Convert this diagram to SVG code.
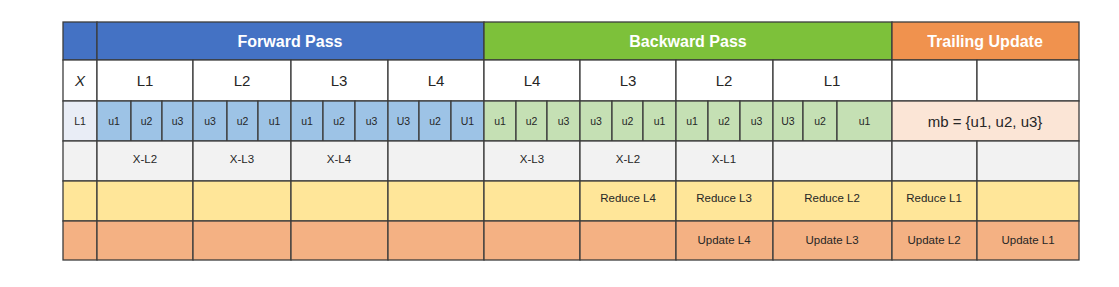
<svg xmlns="http://www.w3.org/2000/svg" width="1119" height="287" viewBox="0 0 1119 287">
<style>
rect{stroke:#3c3c3c;stroke-width:1.3}
rect.bg{stroke:none;fill:#ffffff}
.hb{fill:#4472C4}.hg{fill:#7DC13A}.ho{fill:#F0924E}
.w{fill:#ffffff}.ub{fill:#9DC3E6}.ug{fill:#C5E0B4}.mb{fill:#FBE5D6}.lv{fill:#E9EDF6}
.gr{fill:#F2F2F2}.ye{fill:#FFE699}.or{fill:#F4B183}
text{font-family:"Liberation Sans",Arial,sans-serif;fill:#262626;text-anchor:middle}
.h{font-size:16px;font-weight:bold;fill:#ffffff}
.l{font-size:15px}
.u{font-size:10.5px}
.s{font-size:11.5px}
</style>
<rect class="bg" x="0" y="0" width="1119" height="287"/>
<g id="row-header">
<rect class="hb" x="63" y="22" width="34" height="38"/>
<rect class="hb" x="97" y="22" width="387" height="38"/>
<rect class="hg" x="484" y="22" width="408" height="38"/>
<rect class="ho" x="892" y="22" width="187" height="38"/>
<text class="h" x="290" y="47">Forward Pass</text>
<text class="h" x="688" y="47">Backward Pass</text>
<text class="h" x="985" y="47">Trailing Update</text>
</g>
<g id="row-layers">
<rect class="w" x="63" y="60" width="34" height="41"/>
<rect class="w" x="97" y="60" width="96" height="41"/>
<rect class="w" x="193" y="60" width="98" height="41"/>
<rect class="w" x="291" y="60" width="97" height="41"/>
<rect class="w" x="388" y="60" width="96" height="41"/>
<rect class="w" x="484" y="60" width="96" height="41"/>
<rect class="w" x="580" y="60" width="96" height="41"/>
<rect class="w" x="676" y="60" width="97" height="41"/>
<rect class="w" x="773" y="60" width="119" height="41"/>
<rect class="w" x="892" y="60" width="85" height="41"/>
<rect class="w" x="977" y="60" width="102" height="41"/>
<text class="l" x="80" y="86" font-style="italic">X</text>
<text class="l" x="145" y="86">L1</text>
<text class="l" x="242" y="86">L2</text>
<text class="l" x="339" y="86">L3</text>
<text class="l" x="436" y="86">L4</text>
<text class="l" x="532" y="86">L4</text>
<text class="l" x="628" y="86">L3</text>
<text class="l" x="724" y="86">L2</text>
<text class="l" x="832" y="86">L1</text>
</g>
<g id="row-microbatches">
<rect class="lv" x="63" y="101" width="34" height="40"/>
<rect class="ub" x="97" y="101" width="34" height="40"/>
<rect class="ub" x="131" y="101" width="31" height="40"/>
<rect class="ub" x="162" y="101" width="31" height="40"/>
<rect class="ub" x="193" y="101" width="34" height="40"/>
<rect class="ub" x="227" y="101" width="31" height="40"/>
<rect class="ub" x="258" y="101" width="33" height="40"/>
<rect class="ub" x="291" y="101" width="32" height="40"/>
<rect class="ub" x="323" y="101" width="32" height="40"/>
<rect class="ub" x="355" y="101" width="33" height="40"/>
<rect class="ub" x="388" y="101" width="31" height="40"/>
<rect class="ub" x="419" y="101" width="32" height="40"/>
<rect class="ub" x="451" y="101" width="33" height="40"/>
<rect class="ug" x="484" y="101" width="32" height="40"/>
<rect class="ug" x="516" y="101" width="31" height="40"/>
<rect class="ug" x="547" y="101" width="33" height="40"/>
<rect class="ug" x="580" y="101" width="32" height="40"/>
<rect class="ug" x="612" y="101" width="31" height="40"/>
<rect class="ug" x="643" y="101" width="33" height="40"/>
<rect class="ug" x="676" y="101" width="32" height="40"/>
<rect class="ug" x="708" y="101" width="32" height="40"/>
<rect class="ug" x="740" y="101" width="33" height="40"/>
<rect class="ug" x="773" y="101" width="30" height="40"/>
<rect class="ug" x="803" y="101" width="34" height="40"/>
<rect class="ug" x="837" y="101" width="55" height="40"/>
<rect class="mb" x="892" y="101" width="187" height="40"/>
<text class="u" x="80" y="125">L1</text>
<text class="u" x="114" y="125">u1</text>
<text class="u" x="146.5" y="125">u2</text>
<text class="u" x="177.5" y="125">u3</text>
<text class="u" x="210" y="125">u3</text>
<text class="u" x="242.5" y="125">u2</text>
<text class="u" x="274.5" y="125">u1</text>
<text class="u" x="307" y="125">u1</text>
<text class="u" x="339" y="125">u2</text>
<text class="u" x="371.5" y="125">u3</text>
<text class="u" x="403.5" y="125">U3</text>
<text class="u" x="435" y="125">u2</text>
<text class="u" x="467.5" y="125">U1</text>
<text class="u" x="500" y="125">u1</text>
<text class="u" x="531.5" y="125">u2</text>
<text class="u" x="563.5" y="125">u3</text>
<text class="u" x="596" y="125">u3</text>
<text class="u" x="627.5" y="125">u2</text>
<text class="u" x="659.5" y="125">u1</text>
<text class="u" x="692" y="125">u1</text>
<text class="u" x="724" y="125">u2</text>
<text class="u" x="756.5" y="125">u3</text>
<text class="u" x="788" y="125">U3</text>
<text class="u" x="820" y="125">u2</text>
<text class="u" x="864.5" y="125">u1</text>
<text class="l" x="985" y="127">mb = {u1, u2, u3}</text>
</g>
<g id="row-exchange">
<rect class="gr" x="63" y="141" width="34" height="40"/>
<rect class="gr" x="97" y="141" width="96" height="40"/>
<rect class="gr" x="193" y="141" width="98" height="40"/>
<rect class="gr" x="291" y="141" width="97" height="40"/>
<rect class="gr" x="388" y="141" width="96" height="40"/>
<rect class="gr" x="484" y="141" width="96" height="40"/>
<rect class="gr" x="580" y="141" width="96" height="40"/>
<rect class="gr" x="676" y="141" width="97" height="40"/>
<rect class="gr" x="773" y="141" width="119" height="40"/>
<rect class="gr" x="892" y="141" width="85" height="40"/>
<rect class="gr" x="977" y="141" width="102" height="40"/>
<text class="s" x="145" y="163">X-L2</text>
<text class="s" x="242" y="163">X-L3</text>
<text class="s" x="339" y="163">X-L4</text>
<text class="s" x="532" y="163">X-L3</text>
<text class="s" x="628" y="163">X-L2</text>
<text class="s" x="724" y="163">X-L1</text>
</g>
<g id="row-reduce">
<rect class="ye" x="63" y="181" width="34" height="40"/>
<rect class="ye" x="97" y="181" width="96" height="40"/>
<rect class="ye" x="193" y="181" width="98" height="40"/>
<rect class="ye" x="291" y="181" width="97" height="40"/>
<rect class="ye" x="388" y="181" width="96" height="40"/>
<rect class="ye" x="484" y="181" width="96" height="40"/>
<rect class="ye" x="580" y="181" width="96" height="40"/>
<rect class="ye" x="676" y="181" width="97" height="40"/>
<rect class="ye" x="773" y="181" width="119" height="40"/>
<rect class="ye" x="892" y="181" width="85" height="40"/>
<rect class="ye" x="977" y="181" width="102" height="40"/>
<text class="s" x="628" y="202">Reduce L4</text>
<text class="s" x="724" y="202">Reduce L3</text>
<text class="s" x="832" y="202">Reduce L2</text>
<text class="s" x="934" y="202">Reduce L1</text>
</g>
<g id="row-update">
<rect class="or" x="63" y="221" width="34" height="39"/>
<rect class="or" x="97" y="221" width="96" height="39"/>
<rect class="or" x="193" y="221" width="98" height="39"/>
<rect class="or" x="291" y="221" width="97" height="39"/>
<rect class="or" x="388" y="221" width="96" height="39"/>
<rect class="or" x="484" y="221" width="96" height="39"/>
<rect class="or" x="580" y="221" width="96" height="39"/>
<rect class="or" x="676" y="221" width="97" height="39"/>
<rect class="or" x="773" y="221" width="119" height="39"/>
<rect class="or" x="892" y="221" width="85" height="39"/>
<rect class="or" x="977" y="221" width="102" height="39"/>
<text class="s" x="724" y="244">Update L4</text>
<text class="s" x="832" y="244">Update L3</text>
<text class="s" x="934" y="244">Update L2</text>
<text class="s" x="1028" y="244">Update L1</text>
</g>
<g id="connectors"></g>
</svg>
